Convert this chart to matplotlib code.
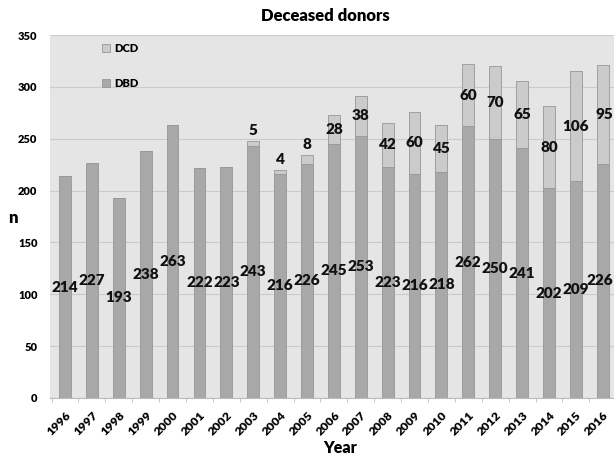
import matplotlib
matplotlib.use("Agg")
import matplotlib.pyplot as plt
import numpy as np

years = ["1996", "1997", "1998", "1999", "2000", "2001", "2002", "2003", "2004", "2005", "2006",
         "2007", "2008", "2009", "2010", "2011", "2012", "2013", "2014", "2015", "2016"]
dbd = [214, 227, 193, 238, 263, 222, 223, 243, 216, 226, 245, 253, 223, 216, 218, 262, 250, 241, 202, 209, 226]
dcd = [0, 0, 0, 0, 0, 0, 0, 5, 4, 8, 28, 38, 42, 60, 45, 60, 70, 65, 80, 106, 95]

plt.rcParams['font.family'] = ['Lato', 'DejaVu Sans']
W = "heavy"

fig = plt.figure(figsize=(6.14, 4.57), dpi=100)
ax = fig.add_axes([50/614, 1 - 398/457, 1 - 50/614, (398 - 35)/457])
ax.set_facecolor("#e5e5e5")

x = np.arange(len(years))
w = 0.44
c_dbd = "#a8a8a8"
c_dcd = "#cbcbcb"
edge = "#979797"
ax.bar(x, dbd, width=w, color=c_dbd, edgecolor=edge, linewidth=0.6, zorder=3, label="DBD")
ax.bar(x, dcd, width=w, bottom=dbd, color=c_dcd, edgecolor=edge, linewidth=0.6, zorder=3, label="DCD")

xmax = 20.42
for i in range(len(years)):
    xpos, ha = x[i], "center"
    if x[i] + 0.5 > xmax:
        xpos, ha = xmax - 0.02, "right"
    ax.text(xpos, dbd[i] / 2, str(dbd[i]), ha=ha, va="center", fontsize=11,
            fontweight=W, color="#111111", zorder=5)
    if dcd[i] > 0:
        if dcd[i] < 10:
            ypos = dbd[i] + dcd[i] + 10
        else:
            ypos = dbd[i] + dcd[i] / 2
        ax.text(xpos, ypos, str(dcd[i]), ha=ha, va="center", fontsize=11,
                fontweight=W, color="#111111", zorder=5)

ax.set_ylim(0, 350)
ax.set_yticks(range(0, 351, 50))
ax.set_xlim(-0.56, xmax)
ax.yaxis.grid(True, color="#cbcbcb", linewidth=0.8, zorder=0)
ax.set_axisbelow(True)
for s in ["top", "right", "left"]:
    ax.spines[s].set_visible(False)
ax.spines["bottom"].set_color("#bbbbbb")

ax.set_xticks(x)
ax.set_xticklabels(years, rotation=45, ha="right", rotation_mode="anchor",
                   fontsize=8.8, fontweight=W)
ax.tick_params(axis="x", length=0, pad=8)
ax.set_xticks(np.arange(-0.5, 20.5, 1), minor=True)
ax.tick_params(axis="x", which="minor", length=3, color="#bbbbbb")
ax.tick_params(axis="y", length=0, pad=9, labelsize=8)
for lab in ax.get_yticklabels():
    lab.set_fontweight(W)

fig.text(325/614, 1 - 16/457, "Deceased donors", fontsize=12, fontweight=W, ha="center", va="center")
fig.text(8/614, 1 - 218/457, "n", fontsize=12, fontweight=W, ha="left", va="center")
fig.text(340/614, 1 - 448/457, "Year", fontsize=11.5, fontweight=W, ha="center", va="center")

handles, labels = ax.get_legend_handles_labels()
leg = ax.legend(handles[::-1], labels[::-1], loc="upper left", bbox_to_anchor=(0.075, 1.005),
                frameon=False, fontsize=8, handlelength=0.7, handleheight=0.7,
                labelspacing=2.1, handletextpad=0.4)
for t in leg.get_texts():
    t.set_fontweight(W)

fig.savefig("out.png", dpi=100)
